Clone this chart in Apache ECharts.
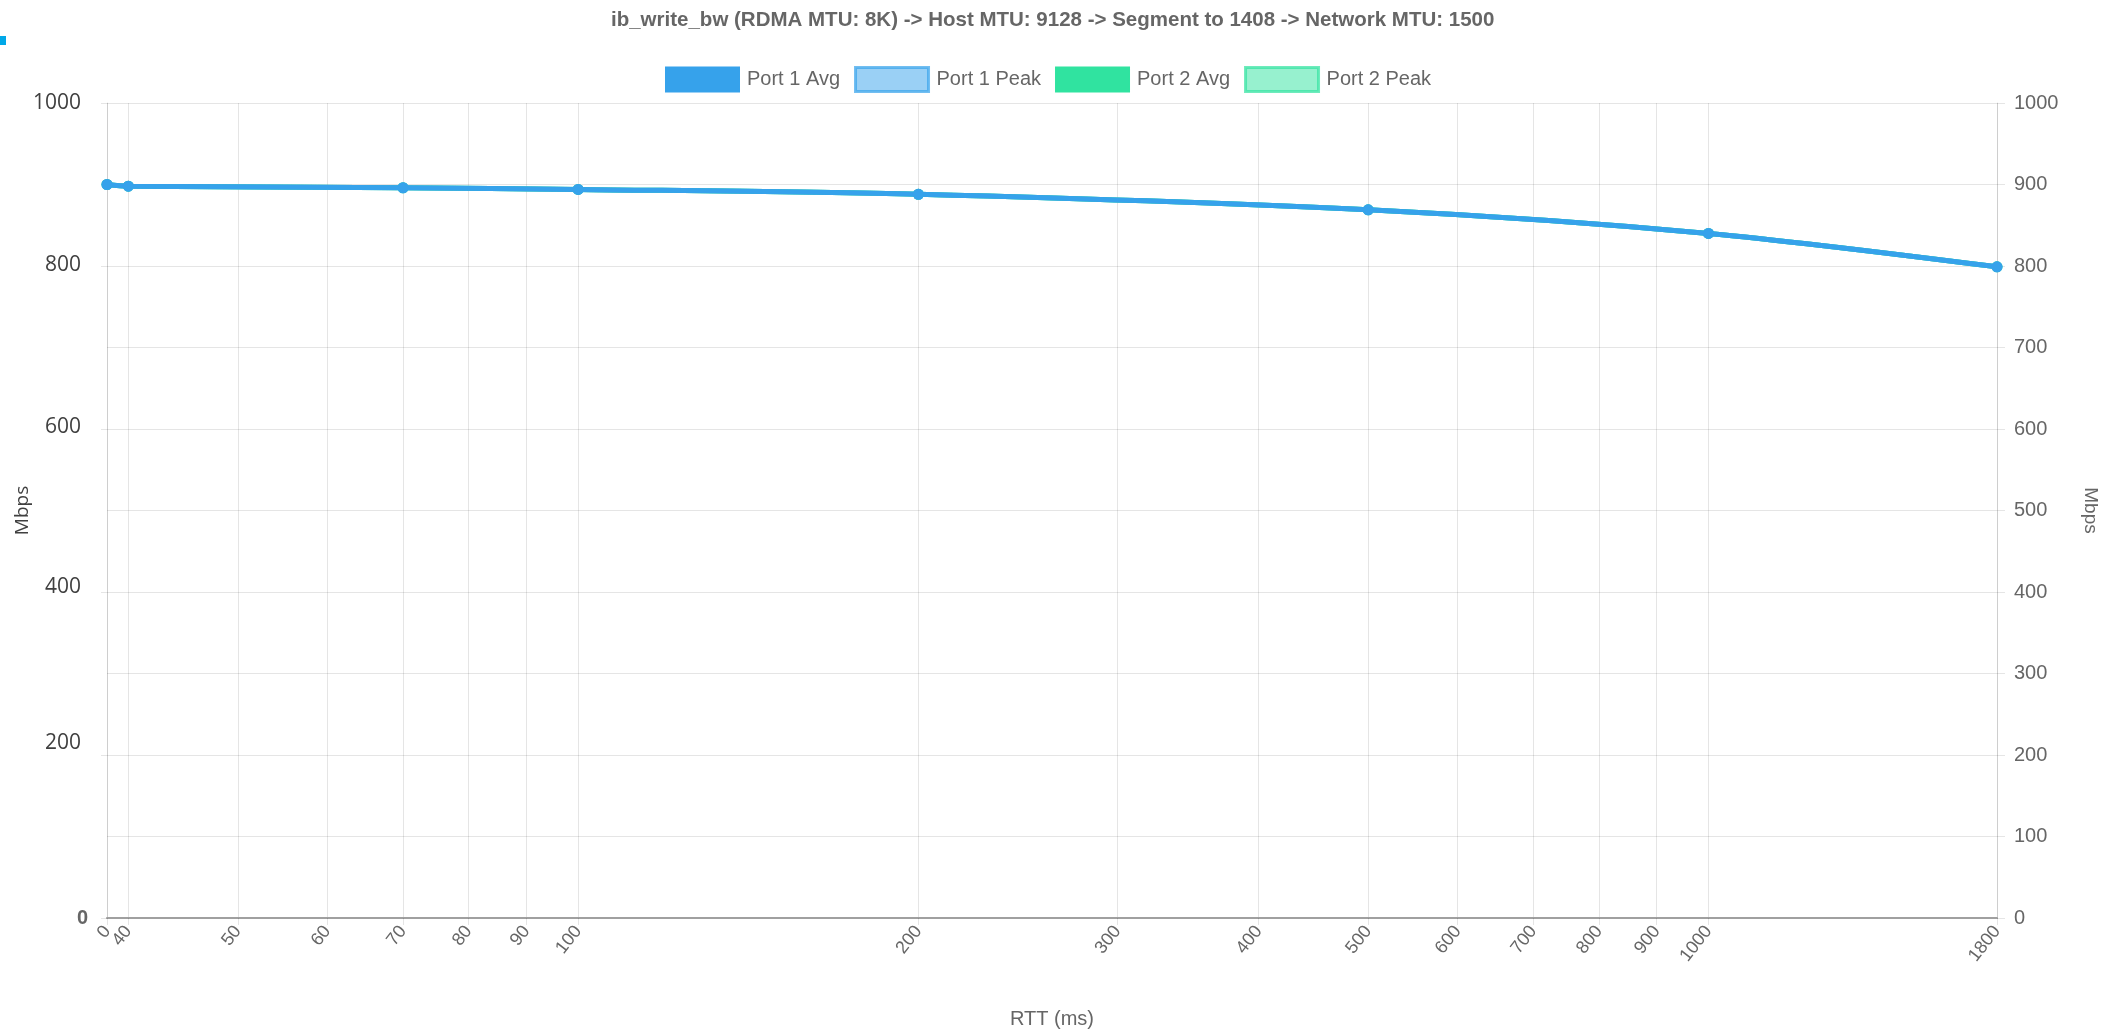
<!DOCTYPE html>
<html>
<head>
<meta charset="utf-8">
<title>ib_write_bw RTT chart</title>
<script src="https://cdn.jsdelivr.net/npm/echarts@6/dist/echarts.min.js"></script>
<style>
  html, body { margin: 0; padding: 0; background: #fff; }
  #chart { width: 2119px; height: 1033px; }
</style>
</head>
<body>
<div id="chart"></div>
<script>
// rtt "0" sits on the left edge of the log axis
const X_MIN = 38.3
const X_MAX = 1800

const xTicks = [0, 40, 50, 60, 70, 80, 90, 100, 200, 300, 400, 500, 600, 700, 800, 900, 1000, 1800]
const rtt = [0, 40, 70, 100, 200, 500, 1000, 1800]
const port1Avg = [900, 898, 896, 894, 888, 869, 840, 799]
const port1Peak = [900, 898, 896, 894, 888, 869, 840, 799]
const port2Avg = [900, 898, 896, 894, 888, 869, 840, 799]
const port2Peak = [900, 898, 896, 894, 888, 869, 840, 799]
const leftTicks = [0, 200, 400, 600, 800, 1000]

const toX = v => (v === 0 ? X_MIN : v)
const pairs = arr => rtt.map((r, i) => [toX(r), arr[i]])
// nudge the edge tick a hair inside so it isn't filtered out
const xTickPos = xTicks.map(v => (v === 0 ? X_MIN * 1.0005 : v))
// the "0" label overlaps "40", so it gets its own axis layer
const zeroPos = xTickPos.filter((v, i) => xTicks[i] === 0)
const restPos = xTickPos.filter((v, i) => xTicks[i] !== 0)

const chart = echarts.init(document.getElementById('chart'))

const grey = '#666'
const gridColor = 'rgba(0,0,0,0.1)'

// left labels sit a little above their lines in the original
const leftLift = { 200: 12, 400: 5, 600: 2, 800: 1, 1000: 0 }
const leftRich = {}
leftTicks.forEach(v => {
  if (v > 0) {
    leftRich['l' + v] = {
      fontFamily: 'Open Sans',
      fontSize: 21,
      color: '#404040',
      padding: [0, 7, leftLift[v] * 2, 0],
    }
  }
})
leftRich.z = { fontFamily: 'Liberation Sans', fontSize: 20, color: grey, fontWeight: 'bold' }

const xLabelStyle = {
  rotate: 52,
  margin: 10,
  fontFamily: 'Liberation Sans',
  fontSize: 18,
  color: grey,
  hideOverlap: false,
}

function lineSeries(name, data, color, z) {
  return {
    name: name,
    type: 'line',
    data: pairs(data),
    smooth: 0.3,
    symbol: 'circle',
    symbolSize: 11,
    z: z,
    lineStyle: { color: color, width: 5 },
    itemStyle: { color: color, borderColor: color, borderWidth: 0 },
    emphasis: { disabled: true },
  }
}

const option = {
  animation: false,
  title: {
    text: 'ib_write_bw (RDMA MTU: 8K) -> Host MTU: 9128 -> Segment to 1408 -> Network MTU: 1500',
    left: 606,
    top: 5,
    textStyle: {
      fontFamily: 'Liberation Sans',
      fontSize: 20.5,
      fontWeight: 'bold',
      color: grey,
    },
  },
  graphic: [
    { type: 'rect', shape: { x: 0, y: 36, width: 6, height: 9 }, style: { fill: '#00a8e8' } },
  ],
  legend: {
    top: 61,
    left: 660,
    itemWidth: 73,
    itemHeight: 24,
    itemGap: 14,
    icon: 'rect',
    textStyle: { fontFamily: 'Liberation Sans', fontSize: 20, color: grey, padding: [0, 0, 0, 3] },
    data: [
      { name: 'Port 1 Avg', itemStyle: { color: '#36a2eb', borderColor: '#36a2eb', borderWidth: 2 } },
      { name: 'Port 1 Peak', itemStyle: { color: 'rgba(54,162,235,0.5)', borderColor: 'rgba(54,162,235,0.7)', borderWidth: 3 } },
      { name: 'Port 2 Avg', itemStyle: { color: '#30e3a0', borderColor: '#30e3a0', borderWidth: 2 } },
      { name: 'Port 2 Peak', itemStyle: { color: 'rgba(48,227,160,0.5)', borderColor: 'rgba(48,227,160,0.7)', borderWidth: 3 } },
    ],
  },
  grid: { left: 107, right: 122, top: 103, bottom: 115, containLabel: false, outerBoundsMode: 'none' },
  xAxis: [
    {
      type: 'log',
      logBase: 10,
      min: X_MIN,
      max: X_MAX,
      position: 'bottom',
      name: 'RTT (ms)',
      nameLocation: 'middle',
      nameGap: 91,
      nameMoveOverlap: false,
      nameTextStyle: { fontFamily: 'Liberation Sans', fontSize: 20, color: grey },
      axisLine: { lineStyle: { color: '#a0a0a0', width: 2 } },
      axisTick: { show: true, length: 7, customValues: xTickPos, lineStyle: { color: gridColor } },
      axisLabel: Object.assign({}, xLabelStyle, {
        customValues: restPos,
        formatter: v => String(Math.round(v)),
      }),
      splitLine: { show: true, lineStyle: { color: gridColor, width: 1 } },
    },
    {
      type: 'log',
      logBase: 10,
      min: X_MIN,
      max: X_MAX,
      position: 'bottom',
      offset: 0,
      axisLine: { show: false },
      axisTick: { show: false },
      splitLine: { show: false },
      axisLabel: Object.assign({}, xLabelStyle, {
        customValues: zeroPos,
        showMinLabel: true,
        formatter: () => '0',
      }),
    },
  ],
  yAxis: [
    {
      type: 'value',
      position: 'left',
      min: 0,
      max: 1000,
      interval: 200,
      name: 'Mbps',
      nameLocation: 'middle',
      nameRotate: 90,
      nameGap: 75,
      nameMoveOverlap: false,
      nameTextStyle: { fontFamily: 'Open Sans', fontSize: 19, color: '#404040' },
      axisLine: { show: true, lineStyle: { color: gridColor } },
      axisTick: { show: true, length: 6, customValues: leftTicks, lineStyle: { color: gridColor } },
      axisLabel: {
        margin: 19,
        customValues: leftTicks,
        formatter: v => (v === 0 ? '{z|0}' : '{l' + v + '|' + v + '}'),
        rich: leftRich,
      },
      splitLine: { show: false },
    },
    {
      type: 'value',
      position: 'right',
      min: 0,
      max: 1000,
      interval: 100,
      name: 'Mbps',
      nameLocation: 'middle',
      nameRotate: -90,
      nameGap: 84,
      nameTextStyle: { fontFamily: 'Liberation Sans', fontSize: 19, color: grey },
      axisLine: { show: true, lineStyle: { color: gridColor } },
      axisTick: { show: true, length: 8, lineStyle: { color: gridColor } },
      axisLabel: { margin: 17, fontFamily: 'Liberation Sans', fontSize: 20, color: grey, formatter: v => String(v) },
      splitLine: { show: true, lineStyle: { color: gridColor } },
    },
  ],
  series: [
    lineSeries('Port 1 Avg', port1Avg, '#36a2eb', 10),
    lineSeries('Port 1 Peak', port1Peak, 'rgba(54,162,235,0.5)', 4),
    lineSeries('Port 2 Avg', port2Avg, '#30e3a0', 3),
    lineSeries('Port 2 Peak', port2Peak, 'rgba(48,227,160,0.5)', 2),
  ],
}

chart.setOption(option)
</script>
</body>
</html>
